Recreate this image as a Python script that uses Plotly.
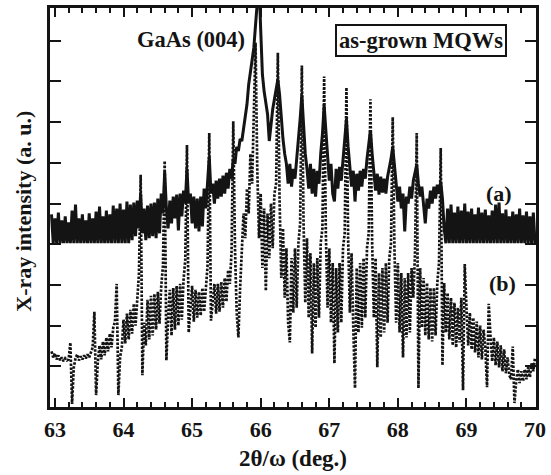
import numpy as np
import plotly.graph_objects as go

# 2theta/omega scan grid (deg.): start and step of the sampled points
two_theta_start = 62.95
two_theta_step = 0.025

# (a) measured intensity, arbitrary units (solid curve, offset upward)
intensity_a = [
    194, 165, 190, 165, 196, 165, 188, 165, 192, 165,
    186, 165, 198, 165, 204, 165, 190, 165, 194, 165,
    188, 165, 195, 165, 190, 165, 197, 165, 202, 165,
    192, 165, 198, 165, 194, 165, 203, 165, 200, 165,
    205, 165, 199, 165, 207, 165,
    204, 168, 206, 172, 208, 180,
    215,
    175, 200, 168, 203, 170, 205, 172, 206, 170, 210, 175, 215, 195,
    237,
    200, 180, 208, 185, 212, 190, 214, 178, 215, 192, 218, 205,
    240,
    205, 215, 185, 212, 180, 210, 177, 212, 182, 220, 200, 230,
    252,
    215, 225, 205, 228, 210, 230, 212, 233, 215, 236, 220, 240, 230,
    250, 245, 262, 258, 270, 268, 280, 295, 305, 325, 338, 352, 362,
    385, 420, 430, 380, 335, 318, 305, 295, 268, 285, 300, 310, 322,
    330, 315, 290, 270, 255, 245, 225, 245, 222, 240, 230, 250, 265, 290,
    314, 285, 255, 240, 220, 245, 215, 240, 212, 238, 225, 255, 275,
    304, 275, 245, 228, 245, 215, 207, 240, 220, 242, 228, 250, 265,
    290, 262, 240, 222, 238, 207, 235, 218, 238, 222, 240, 230, 250, 262,
    279, 255, 235, 218, 235, 214, 232, 216, 230, 215, 232, 240, 250,
    262, 245, 225, 207, 222, 200, 215, 177, 212, 205, 222, 210, 228, 235,
    244, 225, 212, 222, 205, 185, 210, 200, 218, 205, 222, 210, 224, 215,
    227, 210, 180, 165,
    200, 165, 204, 165, 196, 165, 202, 165, 198, 165,
    205, 165, 197, 165, 200, 165, 194, 165, 201, 165,
    196, 165, 199, 165, 193, 165, 198, 165, 204, 165,
    206, 165, 195, 165, 199, 165, 192, 165, 197, 165,
    194, 165, 200, 165, 193, 165, 197, 165, 192, 165,
    196, 165,
]

# (b) intensity, arbitrary units (dotted curve)
intensity_b = [
    56, 50, 54, 48, 52, 47, 50, 46, 49, 47, 48,
    65, 3, 40,
    49, 53, 47, 51, 48, 52, 49, 53, 50, 56, 60,
    96, 12, 45,
    62, 48, 66, 52, 70, 56, 74, 60, 80, 86,
    124, 12, 50,
    60, 88, 64, 94, 68, 98, 74, 104, 82, 114, 134,
    234, 32, 85,
    62, 108, 68, 112, 72, 114, 78, 116, 84, 122, 142,
    248, 47, 90,
    118, 72, 120, 78, 122, 82, 124, 88, 128, 148,
    264, 75, 100,
    122, 86, 118, 90, 116, 92, 120, 96, 124, 142,
    276, 87, 105,
    124, 94, 124, 96, 126, 100, 130, 106, 138, 124, 156,
    288, 160, 95, 70, 120,
    160, 195, 170, 220, 195, 255, 225, 295,
    367,
    240, 170, 215, 140, 200, 117, 195, 150, 205, 160, 215, 225,
    357,
    210, 130, 180, 110, 160, 85, 65, 150, 95, 160, 100, 165, 185,
    344,
    185, 105, 170, 90, 155, 54, 145, 80, 150, 90, 165, 180,
    333,
    175, 100, 160, 85, 145, 44, 140, 75, 145, 85, 160, 175,
    322,
    170, 95, 155, 80, 19, 140, 75, 145, 80, 150, 90, 160, 175,
    310,
    165, 90, 150, 40, 135, 70, 140, 75, 145, 85, 150, 165,
    292,
    160, 85, 145, 75, 135, 50, 130, 70, 135, 75, 140, 110, 155,
    276,
    19, 140, 80, 130, 72, 125, 68, 120, 66, 120, 72, 125, 145,
    261,
    42, 125, 75, 115, 68, 110, 62, 105, 60, 100, 65, 110,
    17, 144,
    100, 62, 95, 58, 90, 55, 86, 50, 82, 48, 78, 60,
    20, 104,
    72, 46, 70, 42, 66, 40, 62, 36, 58, 34, 50, 32, 28,
    61, 4,
    26, 38, 24, 36, 26, 38, 28, 40, 30, 44, 36, 50,
]

assert len(intensity_a) == len(intensity_b)
two_theta = two_theta_start + two_theta_step * np.arange(len(intensity_a))

x_ticks = [63, 64, 65, 66, 67, 68, 69, 70]

ink = "#141414"
serif = "Liberation Serif"

fig = go.Figure()
fig.add_trace(go.Scatter(
    x=two_theta, y=intensity_a, mode="lines",
    line=dict(color=ink, width=3), name="(a)", showlegend=False,
))
fig.add_trace(go.Scatter(
    x=two_theta, y=intensity_b, mode="lines",
    line=dict(color=ink, width=2.7, dash="2.5px,1.5px"), name="(b)", showlegend=False,
))


def bold(size):
    return dict(family=serif, size=size, color=ink, weight="bold")


fig.update_layout(
    width=551, height=475,
    margin=dict(l=50, r=9, t=5, b=68),
    paper_bgcolor="white", plot_bgcolor="white",
    xaxis=dict(
        range=[62.928, 70.014], tickvals=x_ticks,
        ticks="inside", ticklen=9, tickwidth=2, tickcolor=ink,
        minor=dict(dtick=0.2, tick0=63, ticks="inside", ticklen=5,
                   tickwidth=1.5, tickcolor=ink),
        showline=True, linewidth=2.5, linecolor=ink, mirror="allticks",
        showgrid=False, zeroline=False,
        tickfont=bold(22),
        ticklabeloverflow="allow", ticklabelstandoff=1,
    ),
    yaxis=dict(
        range=[0, 402], tick0=0, dtick=41,
        ticks="inside", ticklen=11, tickwidth=2, tickcolor=ink,
        showticklabels=False,
        showline=True, linewidth=2.5, linecolor=ink, mirror="allticks",
        showgrid=False, zeroline=False,
    ),
    annotations=[
        dict(text="2θ/ω (deg.)", xref="paper", yref="paper",
             x=0.5, y=-0.128, xanchor="center", yanchor="middle",
             showarrow=False, font=bold(23)),
        dict(text="X-ray intensity (a. u.)", xref="paper", yref="paper",
             x=-0.055, y=0.49, xanchor="center", yanchor="middle", textangle=-90,
             showarrow=False, font=bold(22)),
        dict(text="GaAs (004)", xref="x", yref="y",
             x=65.8, y=370, xanchor="right", yanchor="middle",
             showarrow=False, font=bold(22.5)),
        dict(text="as-grown MQWs", xref="x", yref="y",
             x=68.34, y=369, xanchor="center", yanchor="middle",
             showarrow=False, font=bold(22.5),
             bordercolor=ink, borderwidth=2, borderpad=2, bgcolor="white"),
        dict(text="(a)", xref="x", yref="y",
             x=69.48, y=215, xanchor="center", yanchor="middle",
             showarrow=False, font=bold(22)),
        dict(text="(b)", xref="x", yref="y",
             x=69.52, y=124, xanchor="center", yanchor="middle",
             showarrow=False, font=bold(22)),
    ],
)

fig.write_html("out.html")
